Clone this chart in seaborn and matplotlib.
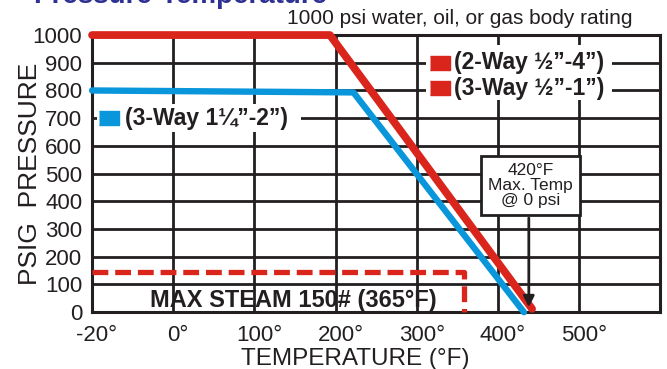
import numpy as np
import matplotlib
matplotlib.use("Agg")
import matplotlib.pyplot as plt
from matplotlib.patches import Rectangle
from matplotlib.transforms import ScaledTranslation
import seaborn as sns

# -------------------------------
# Data
# -------------------------------
red_temp = [-20, 193, 442]
red_psi = [1000, 1000, 12]
blue_temp = [-20, 222, 432]
blue_psi = [800, 793, 0]
steam_temp = [-20, 358, 358]
steam_psi = [145, 145, 0]

x_ticks = [-20, 0, 100, 200, 300, 400, 500, 600]
x_labels = ["-20°", "0°", "100°", "200°", "300°", "400°", "500°", ""]
y_ticks = [0, 100, 200, 300, 400, 500, 600, 700, 800, 900, 1000]

legend_labels = ["(2-Way ½”-4”)", "(3-Way ½”-1”)", "(3-Way 1¼”-2”)"]

RED = "#DA251D"
BLUE = "#0996DA"
INK = "#231f20"

# -------------------------------
# Style
# -------------------------------
sns.set_style("white")
plt.rcParams["font.family"] = ["Liberation Sans", "DejaVu Sans"]

fig = plt.figure(figsize=(6.67, 3.69), dpi=100)
ax = fig.add_axes([0.138, 0.154, 0.852, 0.751])

# left part of the axis (-20..0) is stretched like the original
fwd = lambda x: np.where(np.asarray(x) < 0, np.asarray(x) * 5.0, np.asarray(x))
inv = lambda x: np.where(np.asarray(x) < 0, np.asarray(x) / 5.0, np.asarray(x))
ax.set_xscale("function", functions=(fwd, inv))
ax.set_xlim(-20, 600)
ax.set_ylim(0, 1000)

ax.set_xticks(x_ticks)
ax.set_xticklabels(x_labels)
ax.set_yticks(y_ticks)
ax.tick_params(axis="both", labelsize=16, colors=INK)
ax.tick_params(axis="y", length=3.6, width=2, direction="out", pad=3.5)
ax.tick_params(axis="x", length=0, pad=9)
# the x labels sit a little right of their gridlines in the original
shift = ScaledTranslation(5 / 100, 0, fig.dpi_scale_trans)
for lbl in ax.get_xticklabels():
    lbl.set_transform(lbl.get_transform() + shift)

ax.grid(True, color=INK, linewidth=2)
ax.set_axisbelow(True)
for s in ax.spines.values():
    s.set_color(INK)
    s.set_linewidth(2.2)

# white patches that break the grid behind the legend texts
ax.add_patch(Rectangle((311, 765), 230, 199, facecolor="white", edgecolor="none", zorder=1))
ax.add_patch(Rectangle((-18.7, 650), 175.7, 101, facecolor="white", edgecolor="none", zorder=1))

# -------------------------------
# Lines
# -------------------------------
kw = dict(ax=ax, sort=False, estimator=None)
sns.lineplot(x=steam_temp, y=steam_psi, color=RED, linewidth=3.8,
             linestyle=(0, (3.0, 1.3)), zorder=3, **kw)
sns.lineplot(x=blue_temp, y=blue_psi, color=BLUE, linewidth=4.6, zorder=4, **kw)
sns.lineplot(x=red_temp, y=red_psi, color=RED, linewidth=5.6, zorder=5, **kw)
for ln in ax.get_lines():
    ln.set_clip_on(False)

# -------------------------------
# Legend entries
# -------------------------------
rect = [(-1, -0.74), (1, -0.74), (1, 0.74), (-1, 0.74)]
ax.plot([328, 328], [900, 808], ls="none", marker=rect, markersize=13.7,
        color=RED, zorder=6)
ax.plot([-15.8], [700], ls="none", marker=rect, markersize=13.7,
        color=BLUE, zorder=6)
for xx, yy, lab in zip([346, 346, -12], [900, 808, 700], legend_labels):
    ax.text(xx, yy, lab, fontsize=16.5, fontweight="bold", color=INK,
            va="center", ha="left", zorder=6)

ax.text(148, 43, "MAX STEAM 150# (365°F)", fontsize=17, fontweight="bold",
        color=INK, ha="center", va="center", zorder=6)

ax.annotate("", xy=(438, 18), xytext=(438, 340),
            arrowprops=dict(arrowstyle="-|>", color=INK, lw=2,
                            mutation_scale=16, shrinkA=0, shrinkB=0), zorder=7)
ax.text(440, 458, "420°F\nMax. Temp\n@ 0 psi", fontsize=12.5, color=INK,
        ha="center", va="center", linespacing=1.0, zorder=7,
        bbox=dict(facecolor="white", edgecolor=INK, linewidth=2,
                  boxstyle="square,pad=0.4"))

ax.set_xlabel("TEMPERATURE (°F)", fontsize=17.5, color=INK)
ax.xaxis.set_label_coords(0.463, -0.128, transform=ax.transAxes)
ax.xaxis.label.set_va("top")
ax.set_ylabel("PSIG  PRESSURE", fontsize=19, color=INK, labelpad=-7)

fig.text(0.69, 0.951, "1000 psi water, oil, or gas body rating", fontsize=15,
         color=INK, ha="center", va="center")
fig.text(0.05, 0.975, "Pressure-Temperature", fontsize=20, fontweight="bold",
         color="#2E3192", ha="left", va="bottom")

plt.savefig("out.png", dpi=100)
plt.close()
